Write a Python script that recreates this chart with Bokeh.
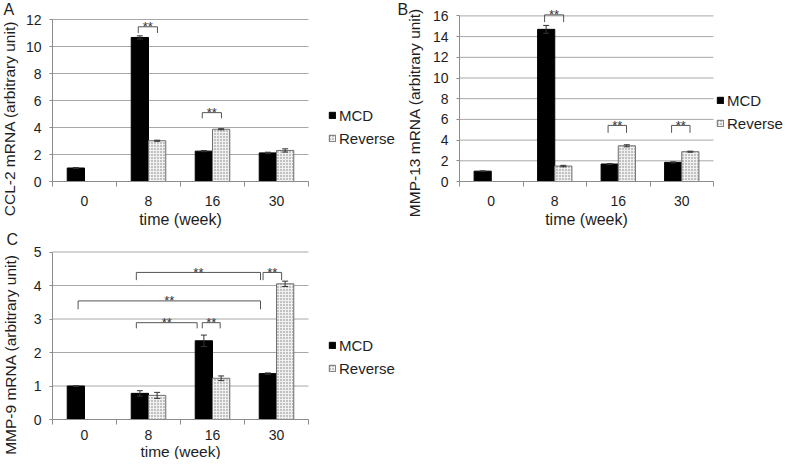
import math
from bokeh.plotting import figure
from bokeh.models import (FixedTicker, Legend, LegendItem, Range1d, LinearAxis,
                          ColumnDataSource)
from bokeh.core.properties import value
from bokeh.embed import file_html
from bokeh.resources import INLINE

# ---------------- data ----------------
times = ["0", "8", "16", "30"]
series_names = ["MCD", "Reverse"]

ccl2_mcd = [1.0, 10.67, 2.25, 2.12]
ccl2_mcd_err = [0.03, 0.12, 0.04, 0.05]
ccl2_rev = [None, 3.02, 3.87, 2.30]
ccl2_rev_err = [None, 0.04, 0.04, 0.12]
ccl2_sig_x0 = [1.34, 2.34]
ccl2_sig_x1 = [1.64, 2.64]
ccl2_sig_y = [11.46, 5.10]
ccl2_sig_leg = [11.0, 4.68]
ccl2_ticks = [0, 2, 4, 6, 8, 10, 12]

mmp13_mcd = [1.0, 14.7, 1.69, 1.85]
mmp13_mcd_err = [0.03, 0.38, 0.05, 0.05]
mmp13_rev = [None, 1.49, 3.45, 2.88]
mmp13_rev_err = [None, 0.07, 0.10, 0.05]
mmp13_sig_x0 = [1.34, 2.34, 3.34]
mmp13_sig_x1 = [1.64, 2.63, 3.63]
mmp13_sig_y = [16.1, 5.42, 5.42]
mmp13_sig_leg = [15.4, 4.7, 4.7]
mmp13_ticks = [0, 2, 4, 6, 8, 10, 12, 14, 16]

mmp9_mcd = [1.0, 0.78, 2.35, 1.37]
mmp9_mcd_err = [0.01, 0.08, 0.17, 0.02]
mmp9_rev = [None, 0.72, 1.23, 4.05]
mmp9_rev_err = [None, 0.09, 0.07, 0.08]
mmp9_sig_x0 = [1.31, 3.29, 0.40, 1.31, 2.34]
mmp9_sig_x1 = [3.25, 3.58, 3.25, 2.26, 2.62]
mmp9_sig_y = [4.39, 4.39, 3.54, 2.89, 2.89]
mmp9_sig_leg = [4.16, 4.16, 3.29, 2.72, 2.72]
mmp9_ticks = [0, 1, 2, 3, 4, 5]

# ---------------- style / layout ----------------
FONT = "Liberation Sans"
TXT = "#1e1e1e"
AXC = "#8c8c8c"
GRID = "#a8a8a8"
BW = 0.27
W, H = 784, 459

p = figure(width=W, height=H, x_range=Range1d(0, W), y_range=Range1d(0, H),
           x_axis_type=None, y_axis_type=None, min_border=0,
           toolbar_location=None, output_backend="svg")
p.outline_line_color = None
p.background_fill_color = "white"
p.border_fill_color = "white"


def txt(s, px, py, size, angle=0.0, align="center", baseline="middle"):
    """text placed at canvas pixel position (px, py), y measured from top"""
    p.text(x=[px], y=[H - py], text=[s], angle=angle,
           text_align=align, text_baseline=baseline, text_font=value(FONT),
           text_font_size=value(size), text_color=TXT)


def panel(key, ox, kx, oy, ky, mcd, mcd_err, rev, rev_err, ticks,
          sx0, sx1, sy, sleg, legend_pos, xlabel_standoff=9):
    xn, yn = "x" + key, "y" + key
    p.extra_x_ranges[xn] = Range1d(-ox / kx, (W - ox) / kx)
    p.extra_y_ranges[yn] = Range1d((oy - H) / ky, oy / ky)
    rn = dict(x_range_name=xn, y_range_name=yn)
    n = len(times)

    # horizontal gridlines
    gt = ticks[1:]
    p.segment(x0=[0] * len(gt), x1=[n] * len(gt), y0=gt, y1=gt,
              line_color=GRID, line_width=1, **rn)

    im = [i for i, v in enumerate(mcd) if v is not None]
    src_m = ColumnDataSource(dict(
        x=[i + 0.5 - BW / 2 for i in im], top=[mcd[i] for i in im],
        up=[mcd[i] + mcd_err[i] for i in im], lo=[mcd[i] - mcd_err[i] for i in im]))
    ir = [i for i, v in enumerate(rev) if v is not None]
    src_r = ColumnDataSource(dict(
        x=[i + 0.5 + BW / 2 for i in ir], top=[rev[i] for i in ir],
        up=[rev[i] + rev_err[i] for i in ir], lo=[rev[i] - rev_err[i] for i in ir]))

    r_m = p.vbar(x="x", top="top", bottom=0, width=BW, source=src_m,
                 fill_color="black", line_color="black", line_width=1, **rn)
    r_r = p.vbar(x="x", top="top", bottom=0, width=BW, source=src_r,
                 fill_color="#f0f0f0", line_color="#6e6e6e", line_width=1,
                 hatch_pattern="dot", hatch_color="#7a7a7a", hatch_scale=3,
                 hatch_weight=1, **rn)

    # error bars
    for src in (src_m, src_r):
        p.segment(x0="x", x1="x", y0="lo", y1="up", source=src,
                  line_color="#333333", line_width=1, **rn)
        p.scatter(x="x", y="up", source=src, marker="dash", size=6,
                  line_color="#333333", line_width=1, **rn)
        p.scatter(x="x", y="lo", source=src, marker="dash", size=6,
                  line_color="#333333", line_width=1, **rn)

    # significance brackets
    xs = [[a, a, b, b] for a, b in zip(sx0, sx1)]
    ys = [[l, y, y, l] for y, l in zip(sy, sleg)]
    p.multi_line(xs=xs, ys=ys, line_color="#555555", line_width=1, **rn)
    p.text(x=[(a + b) / 2 for a, b in zip(sx0, sx1)], y=sy, text=["**"] * len(sy),
           text_align="center", text_baseline="middle", text_font=value(FONT),
           text_font_size=value("13px"), text_color="#333333", **rn)

    # axes (fixed at the data origin of this panel)
    xa = LinearAxis(fixed_location=0, bounds=(0, n),
                    ticker=FixedTicker(ticks=[i + 0.5 for i in range(n)],
                                       minor_ticks=list(range(n + 1))), **rn)
    xa.major_label_overrides = {i + 0.5: t for i, t in enumerate(times)}
    xa.major_tick_out = 0
    xa.major_tick_in = 0
    xa.minor_tick_out = 5
    xa.minor_tick_in = 0
    xa.minor_tick_line_color = AXC
    xa.axis_line_color = AXC
    xa.major_label_standoff = xlabel_standoff
    p.add_layout(xa, "below")

    ya = LinearAxis(fixed_location=0, bounds=(0, ticks[-1]),
                    ticker=FixedTicker(ticks=ticks), **rn)
    ya.major_tick_out = 3
    ya.major_tick_in = 0
    ya.minor_tick_out = 0
    ya.minor_tick_in = 0
    ya.major_tick_line_color = AXC
    ya.axis_line_color = AXC
    ya.major_label_standoff = 8
    p.add_layout(ya, "left")

    for ax in (xa, ya):
        ax.major_label_text_font = FONT
        ax.major_label_text_font_size = "14px"
        ax.major_label_text_color = TXT

    gx, top_y = legend_pos
    legend = Legend(items=[LegendItem(label=series_names[0], renderers=[r_m]),
                           LegendItem(label=series_names[1], renderers=[r_r])],
                    location=(gx, H - (top_y + 43)),
                    orientation="vertical", glyph_width=8, glyph_height=8,
                    label_standoff=3, spacing=3, padding=0, margin=0,
                    border_line_color=None, background_fill_alpha=0,
                    label_text_font=FONT, label_text_font_size="15px",
                    label_text_color=TXT, label_height=20)
    p.add_layout(legend)


panel("a", 52, 64.0, 181, 13.5, ccl2_mcd, ccl2_mcd_err, ccl2_rev, ccl2_rev_err,
      ccl2_ticks, ccl2_sig_x0, ccl2_sig_x1, ccl2_sig_y, ccl2_sig_leg, (328, 105))
panel("b", 459, 63.5, 181, 10.35, mmp13_mcd, mmp13_mcd_err, mmp13_rev,
      mmp13_rev_err, mmp13_ticks, mmp13_sig_x0, mmp13_sig_x1, mmp13_sig_y,
      mmp13_sig_leg, (716, 90))
panel("c", 52, 64.0, 419, 33.5, mmp9_mcd, mmp9_mcd_err, mmp9_rev, mmp9_rev_err,
      mmp9_ticks, mmp9_sig_x0, mmp9_sig_x1, mmp9_sig_y, mmp9_sig_leg, (328, 335),
      xlabel_standoff=5)

# panel letters
txt("A", 3, 0, "16px", align="left", baseline="top")
txt("B", 397, 0, "16px", align="left", baseline="top")
txt("C", 6, 230, "16px", align="left", baseline="top")

# axis titles
txt("CCL-2 mRNA (arbitrary unit)", 9, 118, "15.5px", angle=math.pi / 2)
txt("time (week)", 180, 219, "16px")
txt("MMP-13 mRNA (arbitrary unit)", 414, 112, "15.5px", angle=math.pi / 2)
txt("time (week)", 586, 219, "16px")
txt("MMP-9 mRNA (arbitrary unit)", 10, 354, "15.5px", angle=math.pi / 2)
txt("time (week)", 180, 451, "15.5px")

open("out.html", "w").write(file_html(p, INLINE))
